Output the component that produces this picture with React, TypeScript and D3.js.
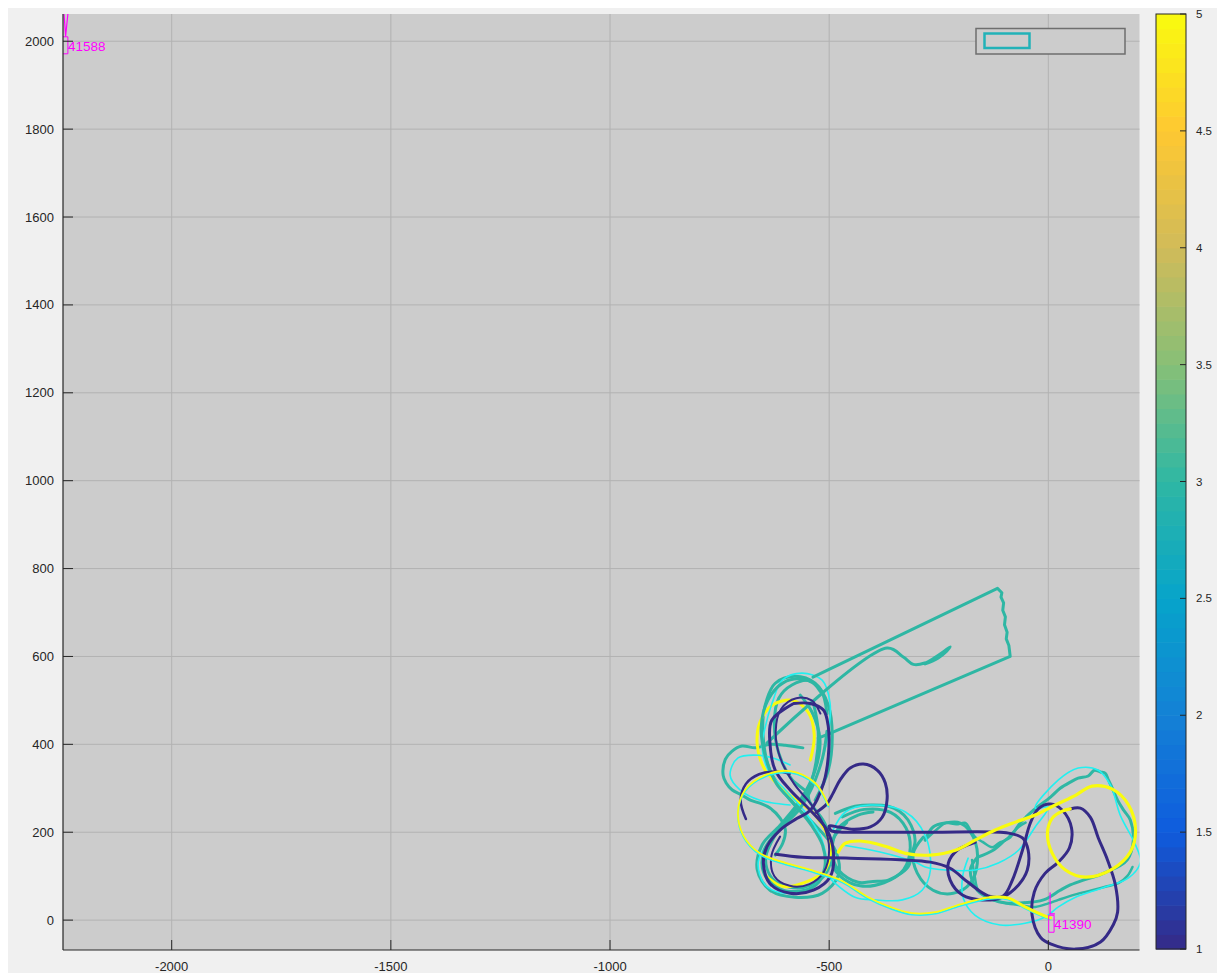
import React from "react";
import * as d3 from "d3";

type Pt = [number, number];

// Axis ticks
const xTicks = [-2000, -1500, -1000, -500, 0];
const yTicks = [0, 200, 400, 600, 800, 1000, 1200, 1400, 1600, 1800, 2000];
const colorTicks = [1, 1.5, 2, 2.5, 3, 3.5, 4, 4.5, 5];
const parulaStops = ["#352a87", "#0f5cdd", "#1481d6", "#06a4ca", "#2eb7a4", "#87bf77", "#d1bb59", "#fec832", "#f9fb0e"];

// ---- Trajectories (x, y in metres) ----
// value 1 runs (navy)
const navyEight: Pt[] = [[-581,493],[-631,455],[-635,402],[-623,341],[-589,296],[-543,250],[-505,205],[-490,152],[-498,98],[-536,68],[-589,61],[-635,83],[-650,129],[-642,167],[-612,205],[-574,231],[-543,250],[-513,311],[-502,372],[-502,440],[-513,478],[-543,493],[-581,493]];
const navyLobeRun: Pt[] = [[-530,245],[-505,265],[-491,289],[-475,319],[-452,346],[-422,355],[-390,341],[-372,312],[-368,273],[-379,234],[-406,212],[-445,207],[-479,212],[-500,214],[-496,204],[-470,200],[-441,200],[-269,200],[-91,198],[-59,187],[-46,159],[-48,114],[-68,80],[-105,52],[-151,46],[-196,57],[-224,91],[-228,130],[-208,159],[-167,177]];
const navyLowerRun: Pt[] = [[-622,150],[-560,143],[-452,141],[-269,132],[-224,118],[-183,86],[-137,55],[-103,55],[-82,91],[-59,159],[-41,221],[-23,253],[5,264],[32,250],[53,209],[48,164],[23,132],[-7,107],[-32,64],[-37,11],[-18,-39],[5,-54],[62,-66],[119,-50],[148,-11],[158,18],[153,80],[135,137],[114,187],[96,234],[73,255],[50,253]];
const navyArc: Pt[] = [[-690,230],[-702,272],[-690,310],[-660,332],[-620,338],[-590,333]];
const navyInner: Pt[] = [[-520,470],[-540,500],[-575,505],[-610,480],[-622,430],[-612,370],[-580,310],[-540,262],[-512,215],[-500,160],[-512,110],[-545,82],[-590,78],[-625,100],[-632,145],[-612,190]];

// value 3 runs (teal)
const tealBox: Pt[] = [[-537,553],[-116,755],[-106,745],[-108,735],[-102,722],[-104,705],[-98,690],[-100,672],[-94,655],[-96,640],[-90,625],[-87,600],[-498,425],[-525,414]];
const tealHook: Pt[] = [[-642,403],[-368,619],[-330,598],[-308,582],[-282,585],[-258,598],[-240,610],[-224,622],[-232,612],[-252,596],[-281,583]];
const tealEightA: Pt[] = [[-532,273],[-502,341],[-493,421],[-502,489],[-532,539],[-578,555],[-623,539],[-646,489],[-651,421],[-635,341],[-589,273],[-532,216],[-486,159],[-479,102],[-516,61],[-578,52],[-635,68],[-664,114],[-653,171],[-612,216],[-566,273],[-532,341],[-521,410],[-539,473],[-566,512]];
const tealEightB: Pt[] = [[-520,520],[-545,545],[-585,535],[-615,505],[-625,450],[-615,380],[-585,320],[-550,290],[-545,270],[-510,220],[-495,160],[-505,110],[-540,80],[-590,75],[-630,95],[-645,140],[-625,190],[-590,235],[-550,290],[-530,360],[-525,430],[-535,490]];
const tealEightC: Pt[] = [[-505,470],[-520,525],[-560,548],[-605,540],[-640,500],[-655,440],[-645,370],[-620,310],[-580,265],[-540,215],[-515,170],[-510,120],[-530,80],[-575,65],[-620,75],[-650,110],[-648,160],[-615,205],[-570,250],[-540,300],[-515,370],[-505,430]];
const tealWestLoop: Pt[] = [[-560,392],[-600,398],[-635,400],[-668,392],[-699,396],[-722,384],[-737,366],[-742,330],[-735,312],[-721,296],[-700,285],[-680,273],[-658,266],[-635,255],[-612,232],[-600,205],[-606,175],[-623,148]];
const tealCentreA: Pt[] = [[-486,243],[-441,259],[-400,262],[-365,259],[-340,248],[-320,228],[-304,182],[-312,150],[-320,121],[-365,91],[-400,88],[-434,86],[-479,114],[-493,159],[-479,209],[-434,239],[-400,246]];
const tealCentreB: Pt[] = [[-470,235],[-420,252],[-360,245],[-325,210],[-315,165],[-330,115],[-375,85],[-430,78],[-475,100],[-497,140],[-488,190],[-460,222]];
const tealMidLoop: Pt[] = [[-281,182],[-263,212],[-235,221],[-201,221],[-171,189],[-162,130],[-178,84],[-217,61],[-263,68],[-299,107],[-308,152],[-285,189]];
const tealEastLoop: Pt[] = [[-162,143],[-126,159],[-98,182],[-87,189],[-64,221],[-34,250],[5,280],[27,300],[50,314],[68,323],[91,328],[105,341],[119,337],[130,334],[137,319],[146,300],[158,273],[172,250],[187,228],[194,182],[180,137],[160,122],[142,114],[110,100],[80,91],[50,80],[27,68],[-11,46],[-64,39],[-98,39],[-126,46],[-162,68],[-178,114],[-162,143]];
const tealRidge: Pt[] = [[-281,182],[-250,210],[-235,221],[-210,218],[-189,221],[-178,205],[-167,189],[-150,178],[-128,166],[-112,176],[-98,182],[-84,196],[-68,212],[-52,222]];
const tealSouthRun: Pt[] = [[-174,137],[-168,100],[-160,68],[-130,48],[-98,39],[-65,34],[-30,30],[0,38],[23,46],[60,58],[100,68],[130,76],[160,84],[180,100],[192,121]];

// value 5 runs (yellow)
const yellowEast: Pt[] = [[-479,155],[-463,175],[-429,180],[-372,168],[-326,152],[-269,148],[-212,159],[-167,182],[-121,205],[-75,223],[-30,239],[16,262],[62,284],[100,305],[146,298],[183,262],[199,205],[187,155],[146,116],[84,98],[39,114],[9,152],[-2,198],[9,232],[32,248],[50,253]];
const yellowSouth: Pt[] = [[-502,262],[-532,312],[-589,339],[-646,330],[-692,296],[-708,246],[-696,193],[-658,152],[-605,132],[-532,111],[-470,89],[-411,52],[-361,30],[-311,16],[-258,18],[-201,36],[-132,52],[-91,50],[-53,30],[-7,9],[5,5]];
const yellowEight: Pt[] = [[-543,364],[-534,421],[-548,473],[-584,500],[-630,489],[-658,450],[-664,398],[-646,341],[-589,284],[-532,239],[-498,171],[-509,114],[-555,86],[-607,77],[-646,102]];

// cyan runs
const cyanEight: Pt[] = [[-516,364],[-502,425],[-498,494],[-516,546],[-562,562],[-607,546],[-628,500],[-646,439],[-653,394],[-639,341],[-600,296],[-555,246],[-516,182],[-509,114],[-543,73],[-600,61],[-646,80],[-662,132],[-635,182]];
const cyanWest: Pt[] = [[-589,353],[-625,368],[-658,375],[-708,369],[-726,330],[-703,296],[-658,273],[-589,262]];
const cyanCentre: Pt[] = [[-502,98],[-441,52],[-395,46],[-333,46],[-288,68],[-269,114],[-281,193],[-326,246],[-406,262],[-463,246],[-491,205]];
const cyanEast: Pt[] = [[-470,171],[-384,155],[-304,132],[-281,121],[-235,114],[-167,114],[-114,130],[-68,159],[-30,212],[0,257],[-30,255],[23,319],[68,346],[114,341],[142,307],[164,239],[199,171],[210,132],[183,96],[123,73],[62,52],[23,30],[-7,7],[-53,-7],[-110,-11],[-167,11],[-194,50],[-196,96],[-183,141]];

// text markers
const markers = [
  { x: -2246, y: 2001, label: "41588", stem: [[-2247, 2080], [-2242, 2012], [-2235, 2080]] as Pt[] },
  { x: 4, y: 2, label: "41390", stem: [[4, 62], [4, 14], [14, 14]] as Pt[] },
];

const W = 1209;
const H = 965;
const plot = { left: 55, right: 1131.5, top: 6, bottom: 942 };
const bar = { left: 1148, right: 1178, top: 6, bottom: 941 };
const font = "'Liberation Sans', Arial, Helvetica, sans-serif";
const ink = "#262626";

export default function App() {
  const x = d3.scaleLinear().domain([-2248, 208]).range([plot.left, plot.right]);
  const y = d3.scaleLinear().domain([-68, 2062]).range([plot.bottom, plot.top]);
  const colorOf = d3
    .scaleLinear<string>()
    .domain(d3.range(9).map((i) => 1 + i * 0.5))
    .range(parulaStops)
    .interpolate(d3.interpolateRgb);
  const cbY = d3.scaleLinear().domain([1, 5]).range([bar.bottom, bar.top]);

  const smooth = d3
    .line<Pt>()
    .x((d) => x(d[0]))
    .y((d) => y(d[1]))
    .curve(d3.curveCatmullRom.alpha(0.5));
  const straight = d3
    .line<Pt>()
    .x((d) => x(d[0]))
    .y((d) => y(d[1]));

  const cyan = "#22f0f0";
  const teal = colorOf(3);
  const navy = colorOf(1);
  const yellow = colorOf(5);
  const traces = [
    { pts: tealWestLoop, c: teal, w: 3, gen: smooth },
    { pts: tealEightA, c: teal, w: 3, gen: smooth },
    { pts: tealEightB, c: teal, w: 3, gen: smooth },
    { pts: tealCentreA, c: teal, w: 3, gen: smooth },
    { pts: tealCentreB, c: teal, w: 3, gen: smooth },
    { pts: tealMidLoop, c: teal, w: 3, gen: smooth },
    { pts: tealEastLoop, c: teal, w: 3, gen: smooth },
    { pts: tealRidge, c: teal, w: 2.5, gen: smooth },
    { pts: tealSouthRun, c: teal, w: 2.5, gen: smooth },
    { pts: yellowEight, c: yellow, w: 3, gen: smooth },
    { pts: cyanEight, c: cyan, w: 1.6, gen: smooth },
    { pts: cyanWest, c: cyan, w: 1.6, gen: smooth },
    { pts: cyanCentre, c: cyan, w: 1.6, gen: smooth },
    { pts: cyanEast, c: cyan, w: 1.6, gen: smooth },
    { pts: tealEightC, c: teal, w: 3, gen: smooth },
    { pts: tealBox, c: teal, w: 3, gen: straight },
    { pts: tealHook, c: teal, w: 3, gen: smooth },
    { pts: navyInner, c: navy, w: 2, gen: smooth },
    { pts: navyEight, c: navy, w: 3, gen: smooth },
    { pts: navyLobeRun, c: navy, w: 3, gen: smooth },
    { pts: navyLowerRun, c: navy, w: 3, gen: smooth },
    { pts: navyArc, c: navy, w: 2.5, gen: smooth },
    { pts: yellowEast, c: yellow, w: 3.2, gen: smooth },
  ];

  const bands = d3.range(64);
  const bandH = (bar.bottom - bar.top) / 64;

  return (
    <svg
      width={W}
      height={H}
      style={{ display: "block", position: "fixed", left: 8, top: 8, background: "#f0f0f0" }}
      fontFamily={font}
    >
      <defs>
        <clipPath id="plotClip">
          <rect x={plot.left} y={plot.top} width={plot.right - plot.left} height={plot.bottom - plot.top} />
        </clipPath>
      </defs>
      <rect x={plot.left} y={plot.top} width={plot.right - plot.left} height={plot.bottom - plot.top} fill="#cccccc" />
      {/* grid */}
      {xTicks.map((t) => (
        <line key={"gx" + t} x1={x(t)} x2={x(t)} y1={plot.top} y2={plot.bottom} stroke="#b2b2b2" strokeWidth={1} />
      ))}
      {yTicks.map((t) => (
        <line key={"gy" + t} x1={plot.left} x2={plot.right} y1={y(t)} y2={y(t)} stroke="#b2b2b2" strokeWidth={1} />
      ))}
      <g clipPath="url(#plotClip)" fill="none" strokeLinejoin="round" strokeLinecap="round">
        {traces.map((t, i) => (
          <path key={i} d={t.gen(t.pts) || ""} stroke={t.c} strokeWidth={t.w} />
        ))}
        {/* southern run: cyan and yellow tracks lying side by side */}
        <path d={smooth(yellowSouth) || ""} stroke={cyan} strokeWidth={1.6} transform="translate(0,1.6)" />
        <path d={smooth(yellowSouth) || ""} stroke={yellow} strokeWidth={1.8} />
        <path d={smooth(yellowSouth.slice(16)) || ""} stroke={yellow} strokeWidth={3} />
        {markers.map((m) => (
          <g key={m.label}>
            <path d={straight(m.stem) || ""} stroke="#ff00ff" strokeWidth={1.2} />
            <rect x={x(m.x) - 1} y={y(m.y) - 4} width={5} height={17} stroke="#ff00ff" strokeWidth={1} fill="none" />
          </g>
        ))}
      </g>
      {markers.map((m) => (
        <text key={"t" + m.label} x={x(m.x) + 4} y={y(m.y) + 10} fontSize={13.5} fill="#ff00ff">
          {m.label}
        </text>
      ))}
      {/* axes */}
      <line x1={plot.left} x2={plot.left} y1={plot.top} y2={plot.bottom} stroke={ink} strokeWidth={1.2} />
      <line x1={plot.left} x2={plot.right} y1={plot.bottom} y2={plot.bottom} stroke={ink} strokeWidth={1.2} />
      {xTicks.map((t) => (
        <g key={"xt" + t}>
          <line x1={x(t)} x2={x(t)} y1={plot.bottom} y2={plot.bottom - 10} stroke={ink} strokeWidth={1} />
          <text x={x(t)} y={plot.bottom + 21} fontSize={13} fill={ink} textAnchor="middle">
            {t}
          </text>
        </g>
      ))}
      {yTicks.map((t) => (
        <g key={"yt" + t}>
          <line x1={plot.left} x2={plot.left + 10} y1={y(t)} y2={y(t)} stroke={ink} strokeWidth={1} />
          <text x={plot.left - 9} y={y(t) + 4.5} fontSize={13} fill={ink} textAnchor="end">
            {t}
          </text>
        </g>
      ))}
      {/* legend */}
      <rect x={968} y={20.5} width={149} height={25.5} fill="#cccccc" stroke="#6e6e6e" strokeWidth={1.5} />
      <rect x={976.5} y={25.5} width={45} height={14.5} fill="none" stroke="#22b2b8" strokeWidth={2.5} />
      {/* colour bar */}
      {bands.map((i) => (
        <rect
          key={"b" + i}
          x={bar.left}
          y={bar.bottom - (i + 1) * bandH}
          width={bar.right - bar.left}
          height={bandH + 0.6}
          fill={colorOf(1 + ((i + 0.5) * 4) / 64)}
        />
      ))}
      <rect x={bar.left} y={bar.top} width={bar.right - bar.left} height={bar.bottom - bar.top} fill="none" stroke={ink} strokeWidth={1} />
      {colorTicks.map((t) => (
        <g key={"ct" + t}>
          <line x1={bar.right - 6} x2={bar.right} y1={cbY(t)} y2={cbY(t)} stroke={ink} strokeWidth={1} />
          <text x={bar.right + 10} y={cbY(t) + 4} fontSize={11.5} fill={ink}>
            {t}
          </text>
        </g>
      ))}
    </svg>
  );
}
